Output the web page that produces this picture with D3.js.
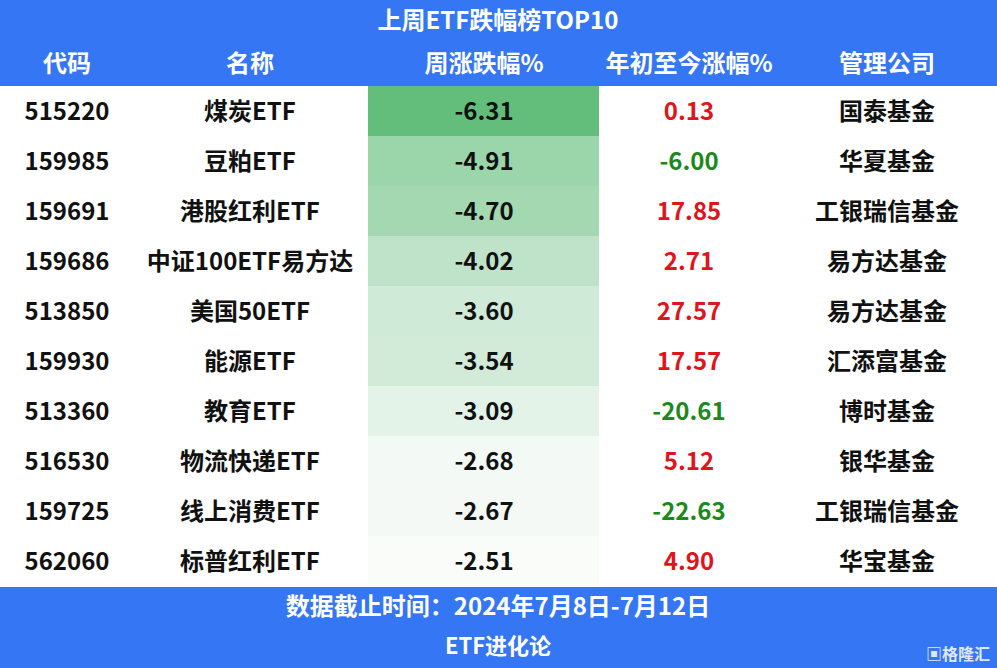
<!DOCTYPE html><html><head><meta charset="utf-8"><script src="https://cdn.jsdelivr.net/npm/d3@7"></script>
<style>body{margin:0;background:#fff}text{font-family:"Noto Sans CJK SC";font-weight:bold}</style></head><body><svg id="c" width="997" height="668"></svg>
<script>
const codes=["515220","159985","159691","159686","513850","159930","513360","516530","159725","562060"];
const names=["煤炭ETF","豆粕ETF","港股红利ETF","中证100ETF易方达","美国50ETF","能源ETF","教育ETF","物流快递ETF","线上消费ETF","标普红利ETF"];
const weekChg=[-6.31,-4.91,-4.70,-4.02,-3.60,-3.54,-3.09,-2.68,-2.67,-2.51];
const ytdChg=[0.13,-6.00,17.85,2.71,27.57,17.57,-20.61,5.12,-22.63,4.90];
const companies=["国泰基金","华夏基金","工银瑞信基金","易方达基金","易方达基金","汇添富基金","博时基金","银华基金","工银瑞信基金","华宝基金"];
const headers=["代码","名称","周涨跌幅%","年初至今涨幅%","管理公司"];
const svg=d3.select("#c"),blue="#3476f4";
const colX=[67,250,484,689,887];
const y=d3.scaleBand().domain(d3.range(codes.length)).range([86,586]);
const col=d3.scaleLinear().domain([d3.min(weekChg),d3.max(weekChg)]).range(["#63be7b","#fafcfa"]);
svg.append("rect").attr("width",997).attr("height",86).attr("fill",blue);
svg.append("rect").attr("y",587).attr("width",997).attr("height",81).attr("fill",blue);
svg.append("text").attr("x",498).attr("y",29).attr("text-anchor","middle").attr("fill","#fff").attr("font-size",24).text("上周ETF跌幅榜TOP10");
headers.forEach((h,i)=>svg.append("text").attr("x",colX[i]).attr("y",72).attr("text-anchor","middle").attr("fill","#fff").attr("font-size",24).text(h));
svg.selectAll(".bg").data(weekChg).join("rect").attr("x",368).attr("width",231).attr("y",(d,i)=>y(i)).attr("height",y.bandwidth()).attr("fill",d=>col(d));
const rows=svg.selectAll(".r").data(codes).join("g").attr("transform",(d,i)=>`translate(0,${y(i)+y.bandwidth()/2+9})`);
const cells=(i)=>[codes[i],names[i],weekChg[i].toFixed(2),ytdChg[i].toFixed(2),companies[i]];
rows.each(function(d,i){const g=d3.select(this);cells(i).forEach((t,j)=>g.append("text").attr("x",colX[j]).attr("text-anchor","middle").attr("font-size",24)
 .attr("fill",j==3?(ytdChg[i]>=0?"#e0141a":"#1a8a1a"):"#111").text(t));});
svg.append("text").attr("x",498).attr("y",615).attr("text-anchor","middle").attr("fill","#fff").attr("font-size",24).text("数据截止时间：2024年7月8日-7月12日");
svg.append("text").attr("x",498).attr("y",654).attr("text-anchor","middle").attr("fill","#fff").attr("font-size",22).text("ETF进化论");
svg.append("text").attr("x",990).attr("y",660).attr("text-anchor","end").attr("fill","#dfe8fb").attr("font-size",16).attr("font-weight","normal").text("▣格隆汇");
</script></body></html>
